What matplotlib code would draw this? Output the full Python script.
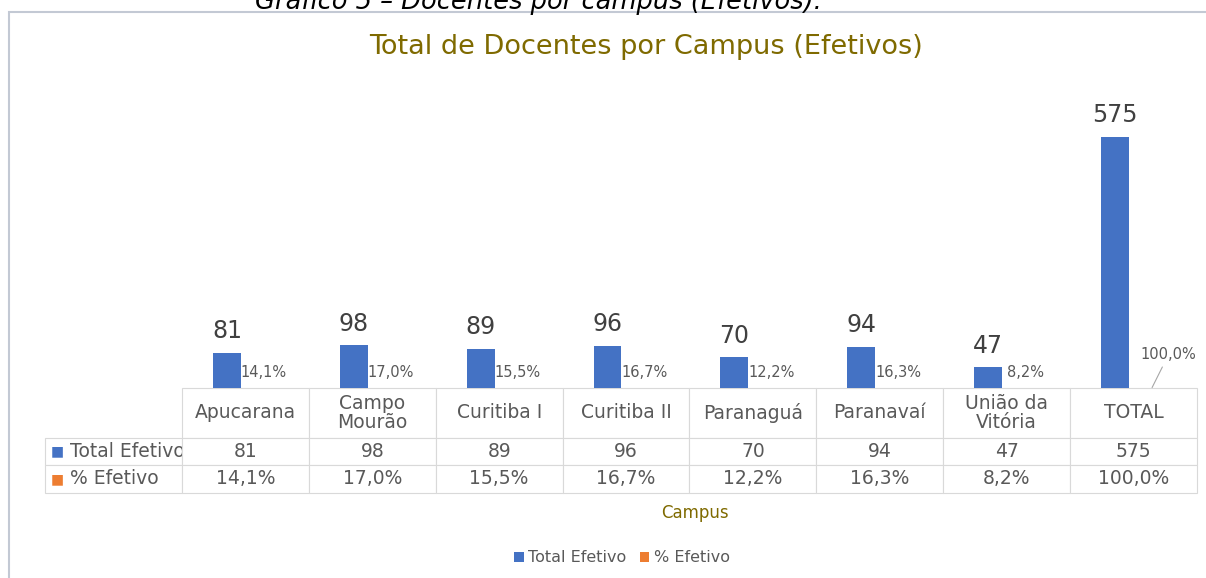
import matplotlib.pyplot as plt
from matplotlib.patches import Rectangle
import numpy as np

# dados do gráfico
campus = ["Apucarana", "Campo\nMourão", "Curitiba I", "Curitiba II",
          "Paranaguá", "Paranavaí", "União da\nVitória", "TOTAL"]
total_efetivo = [81, 98, 89, 96, 70, 94, 47, 575]
pct_efetivo = [0.141, 0.170, 0.155, 0.167, 0.122, 0.163, 0.082, 1.000]

series_names = ["Total Efetivo", "% Efetivo"]
azul = "#4472C4"
laranja = "#ED7D31"
cinza = "#595959"
oliva = "#7F6A00"

W, H = 1206, 578
fig = plt.figure(figsize=(W / 100, H / 100), dpi=100)

# moldura do gráfico
fig.patches.append(Rectangle((9 / W, -0.01), 1.05, 1 - 12 / H + 0.01,
                             transform=fig.transFigure, fill=False,
                             edgecolor="#c3c9d4", lw=1.5))

# legenda do documento (cortada no topo, como na imagem original)
fig.text(255 / W, 1 - 9 / H, "Gráfico 5 – Docentes por campus (Efetivos).",
         style="italic", fontsize=18.5, va="baseline", ha="left", color="black")

ax = fig.add_axes([182 / W, 1 - 388 / H, 1015 / W, 288 / H])
x = np.arange(len(campus))
w = 0.22
off = 0.146

b1 = ax.bar(x - off, total_efetivo, w, color=azul, label=series_names[0])
b2 = ax.bar(x + off, pct_efetivo, w, color=laranja, label=series_names[1])
ax.set_xlim(-0.5, len(campus) - 0.5)
ax.set_ylim(0, 660)
ax.axis("off")

ax.bar_label(b1, labels=[str(v) for v in total_efetivo], padding=7,
             fontsize=17, color="#404040")

pct_txt = [f"{p * 100:.1f}%".replace(".", ",") for p in pct_efetivo]
ax.bar_label(b2, labels=pct_txt[:-1] + [""], padding=6, fontsize=10.5, color=cinza)
ax.annotate(pct_txt[-1], xy=(x[-1] + off, pct_efetivo[-1]), xytext=(12, 24),
            textcoords="offset points", ha="center", va="center",
            fontsize=10.5, color=cinza,
            arrowprops=dict(arrowstyle="-", color="#a6a6a6", lw=0.8,
                            shrinkA=2, shrinkB=0))

# tabela de dados
linhas = [[series_names[0]] + [str(v) for v in total_efetivo],
          [series_names[1]] + pct_txt]
tab = ax.table(cellText=linhas, colLabels=[""] + campus,
               colWidths=[137] + [126.9] * len(campus),
               cellLoc="center",
               bbox=[-137 / 1015, -105 / 288, 1152 / 1015, 105 / 288])
tab.auto_set_font_size(False)
tab.set_fontsize(13.5)
for (r, c), cell in tab.get_celld().items():
    cell.set_edgecolor("#d9d9d9")
    cell.set_linewidth(0.8)
    cell.get_text().set_color(cinza)
    cell.get_text().set_linespacing(1.05)
    if r == 0:
        cell.set_height(50)
    elif r == 1:
        cell.set_height(27)
    else:
        cell.set_height(28)
    if c == 0:
        cell.PAD = 25 / 137
        cell.get_text().set_ha("left")
        cell._loc = "left"
tab[0, 0].set_visible(False)

# quadradinhos da legenda nas linhas da tabela
for yy, cor in [(-63.5 / 288, azul), (-91 / 288, laranja)]:
    ax.text(-131 / 1015, yy, "■", color=cor, fontsize=10, va="center",
            ha="left", transform=ax.transAxes)

fig.text(695 / W, 1 - 513 / H, "Campus", color=oliva, fontsize=12,
         ha="center", va="center")
fig.text(646 / W, 1 - 47 / H, "Total de Docentes por Campus (Efetivos)",
         color=oliva, fontsize=19.5, ha="center", va="center")

leg = fig.legend(handles=[b1, b2], loc="center", ncol=2, frameon=False,
                 bbox_to_anchor=(622 / W, 1 - 558 / H), fontsize=11.5,
                 handlelength=0.6, handleheight=0.6, handletextpad=0.3,
                 columnspacing=0.8)
for t in leg.get_texts():
    t.set_color(cinza)

fig.savefig("out.png", dpi=100)
